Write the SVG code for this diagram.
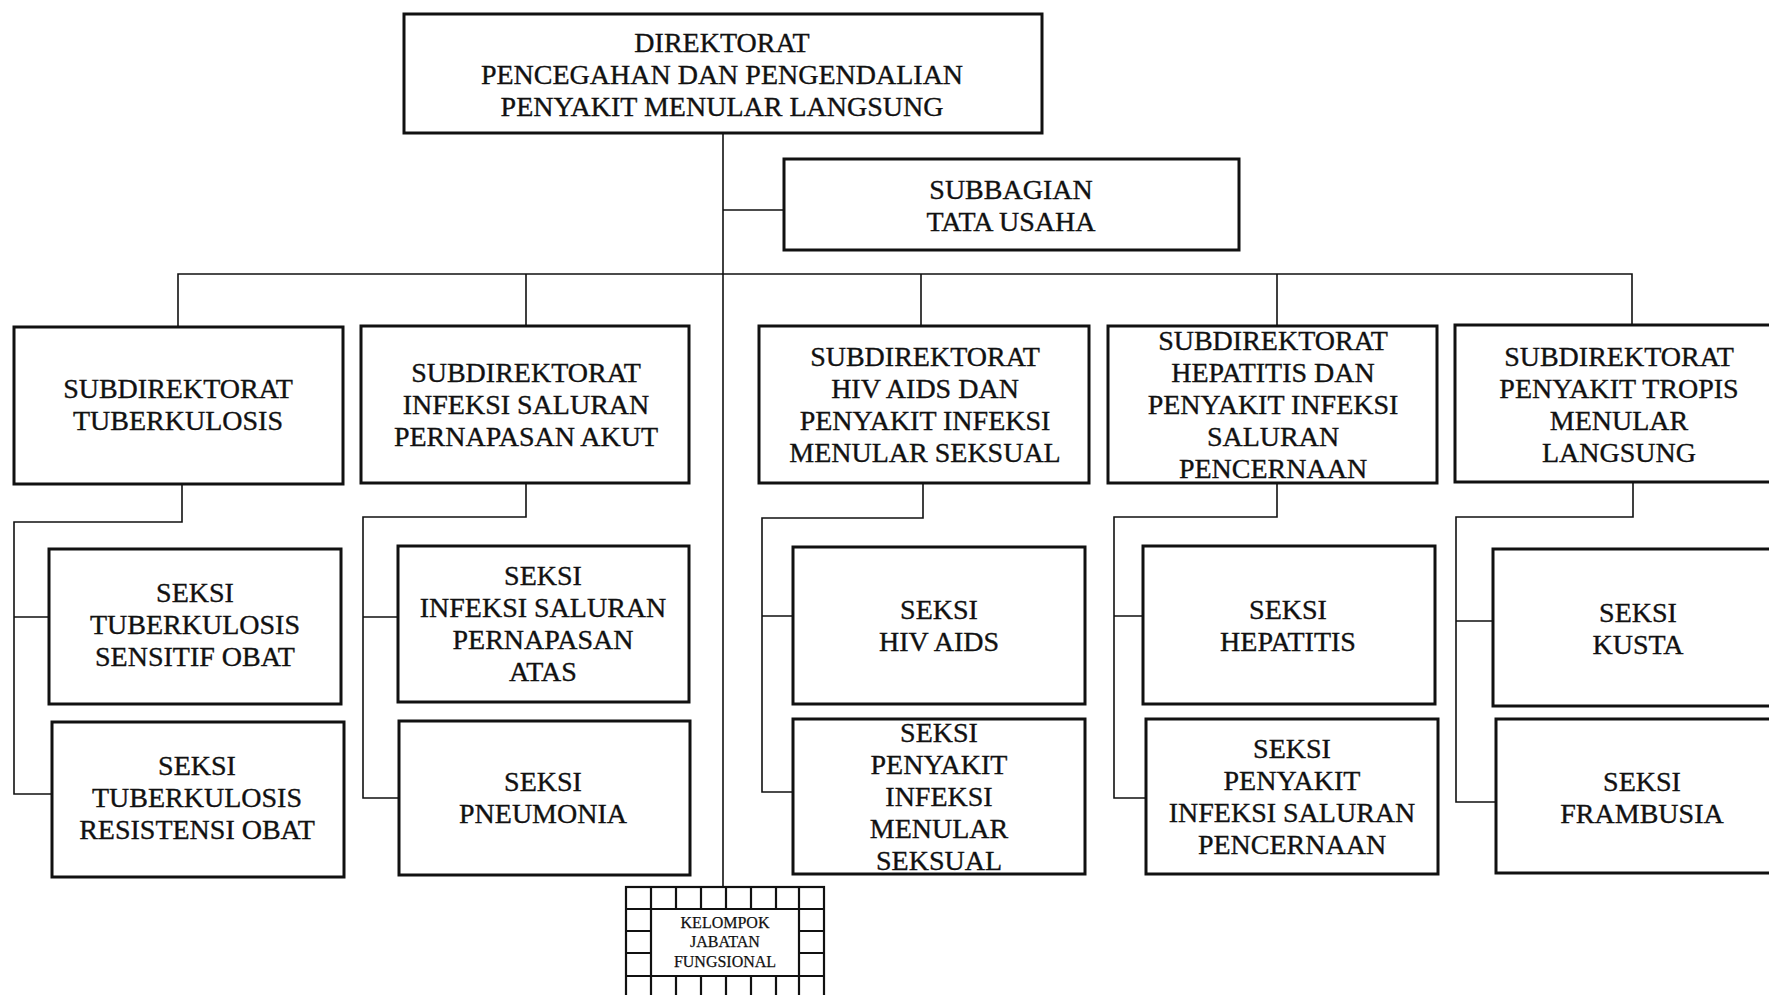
<svg xmlns="http://www.w3.org/2000/svg" width="1769" height="995" viewBox="0 0 1769 995">
  <style>
    .box { fill: #fff; stroke: #111; stroke-width: 3; }
    .grid { fill: none; stroke: #111; stroke-width: 2.2; }
    .link { fill: none; stroke: #111; stroke-width: 1.6; }
    text { font-family: "Liberation Serif", "Times New Roman", serif; font-size: 28px; fill: #111; stroke: #111; stroke-width: 0.35; text-anchor: middle; }
    .small { font-size: 16px; stroke-width: 0.25; }
  </style>
  <rect width="1769" height="995" fill="#fff"/>

  <!-- connectors -->
  <g id="connectors">
    <path class="link" d="M723 133 V887"/>
    <path class="link" d="M723 210 H784"/>
    <path class="link" d="M178 327 V274 H1632 V327"/>
    <path class="link" d="M526 274 V327 M921 274 V327 M1277 274 V327"/>
    <!-- column 1 -->
    <path class="link" d="M182 484 V522 H14 V794 H52 M14 617 H49"/>
    <!-- column 2 -->
    <path class="link" d="M526 483 V517 H363 V798 H399 M363 617 H398"/>
    <!-- column 3 -->
    <path class="link" d="M923 483 V518 H762 V792 H793 M762 616 H793"/>
    <!-- column 4 -->
    <path class="link" d="M1277 483 V517 H1114 V798 H1146 M1114 616 H1143"/>
    <!-- column 5 -->
    <path class="link" d="M1633 482 V517 H1456 V802 H1496 M1456 621 H1493"/>
  </g>

  <g id="direktorat">
    <rect class="box" x="404" y="14" width="638" height="119"/>
    <text x="722" y="52">DIREKTORAT</text>
    <text x="722" y="84">PENCEGAHAN DAN PENGENDALIAN</text>
    <text x="722" y="116">PENYAKIT MENULAR LANGSUNG</text>
  </g>

  <g id="subbagian-tu">
    <rect class="box" x="784" y="159" width="455" height="91"/>
    <text x="1011" y="199">SUBBAGIAN</text>
    <text x="1011" y="231">TATA USAHA</text>
  </g>

  <g id="subdit-tb">
    <rect class="box" x="14" y="327" width="329" height="157"/>
    <text x="178" y="398">SUBDIREKTORAT</text>
    <text x="178" y="430">TUBERKULOSIS</text>
  </g>

  <g id="subdit-ispa">
    <rect class="box" x="361" y="326" width="328" height="157"/>
    <text x="526" y="382">SUBDIREKTORAT</text>
    <text x="526" y="414">INFEKSI SALURAN</text>
    <text x="526" y="446">PERNAPASAN AKUT</text>
  </g>

  <g id="subdit-hiv">
    <rect class="box" x="759" y="326" width="330" height="157"/>
    <text x="925" y="366">SUBDIREKTORAT</text>
    <text x="925" y="398">HIV AIDS DAN</text>
    <text x="925" y="430">PENYAKIT INFEKSI</text>
    <text x="925" y="462">MENULAR SEKSUAL</text>
  </g>

  <g id="subdit-hepatitis">
    <rect class="box" x="1108" y="326" width="329" height="157"/>
    <text x="1273" y="350">SUBDIREKTORAT</text>
    <text x="1273" y="382">HEPATITIS DAN</text>
    <text x="1273" y="414">PENYAKIT INFEKSI</text>
    <text x="1273" y="446">SALURAN</text>
    <text x="1273" y="478">PENCERNAAN</text>
  </g>

  <g id="subdit-tropis">
    <rect class="box" x="1455" y="325" width="330" height="157"/>
    <text x="1619" y="366">SUBDIREKTORAT</text>
    <text x="1619" y="398">PENYAKIT TROPIS</text>
    <text x="1619" y="430">MENULAR</text>
    <text x="1619" y="462">LANGSUNG</text>
  </g>

  <g id="seksi-tb-so">
    <rect class="box" x="49" y="549" width="292" height="155"/>
    <text x="195" y="602">SEKSI</text>
    <text x="195" y="634">TUBERKULOSIS</text>
    <text x="195" y="666">SENSITIF OBAT</text>
  </g>

  <g id="seksi-tb-ro">
    <rect class="box" x="52" y="722" width="292" height="155"/>
    <text x="197" y="775">SEKSI</text>
    <text x="197" y="807">TUBERKULOSIS</text>
    <text x="197" y="839">RESISTENSI OBAT</text>
  </g>

  <g id="seksi-ispa-atas">
    <rect class="box" x="398" y="546" width="291" height="156"/>
    <text x="543" y="585">SEKSI</text>
    <text x="543" y="617">INFEKSI SALURAN</text>
    <text x="543" y="649">PERNAPASAN</text>
    <text x="543" y="681">ATAS</text>
  </g>

  <g id="seksi-pneumonia">
    <rect class="box" x="399" y="721" width="291" height="154"/>
    <text x="543" y="791">SEKSI</text>
    <text x="543" y="823">PNEUMONIA</text>
  </g>

  <g id="seksi-hiv">
    <rect class="box" x="793" y="547" width="292" height="157"/>
    <text x="939" y="619">SEKSI</text>
    <text x="939" y="651">HIV AIDS</text>
  </g>

  <g id="seksi-pims">
    <rect class="box" x="793" y="719" width="292" height="155"/>
    <text x="939" y="742">SEKSI</text>
    <text x="939" y="774">PENYAKIT</text>
    <text x="939" y="806">INFEKSI</text>
    <text x="939" y="838">MENULAR</text>
    <text x="939" y="870">SEKSUAL</text>
  </g>

  <g id="seksi-hepatitis">
    <rect class="box" x="1143" y="546" width="292" height="158"/>
    <text x="1288" y="619">SEKSI</text>
    <text x="1288" y="651">HEPATITIS</text>
  </g>

  <g id="seksi-pisp">
    <rect class="box" x="1146" y="719" width="292" height="155"/>
    <text x="1292" y="758">SEKSI</text>
    <text x="1292" y="790">PENYAKIT</text>
    <text x="1292" y="822">INFEKSI SALURAN</text>
    <text x="1292" y="854">PENCERNAAN</text>
  </g>

  <g id="seksi-kusta">
    <rect class="box" x="1493" y="549" width="292" height="157"/>
    <text x="1638" y="622">SEKSI</text>
    <text x="1638" y="654">KUSTA</text>
  </g>

  <g id="seksi-frambusia">
    <rect class="box" x="1496" y="719" width="292" height="154"/>
    <text x="1642" y="791">SEKSI</text>
    <text x="1642" y="823">FRAMBUSIA</text>
  </g>

  <g id="kelompok-jabatan-fungsional">
    <rect class="grid" x="626" y="887" width="198" height="120"/>
    <!-- top and bottom bands of cells -->
    <path class="grid" d="M626 909 H824 M626 976 H824 M651 909 V976 M799 909 V976"/>
    <path class="grid" d="M626 931 H651 M626 953 H651 M799 931 H824 M799 953 H824"/>
    <path class="grid" d="M651 887 V909 M676 887 V909 M701 887 V909 M726 887 V909 M751 887 V909 M776 887 V909 M799 887 V909"/>
    <path class="grid" d="M651 976 V995 M676 976 V995 M701 976 V995 M726 976 V995 M751 976 V995 M776 976 V995 M799 976 V995"/>
    <text class="small" x="725" y="928">KELOMPOK</text>
    <text class="small" x="725" y="947">JABATAN</text>
    <text class="small" x="725" y="967">FUNGSIONAL</text>
  </g>
</svg>
